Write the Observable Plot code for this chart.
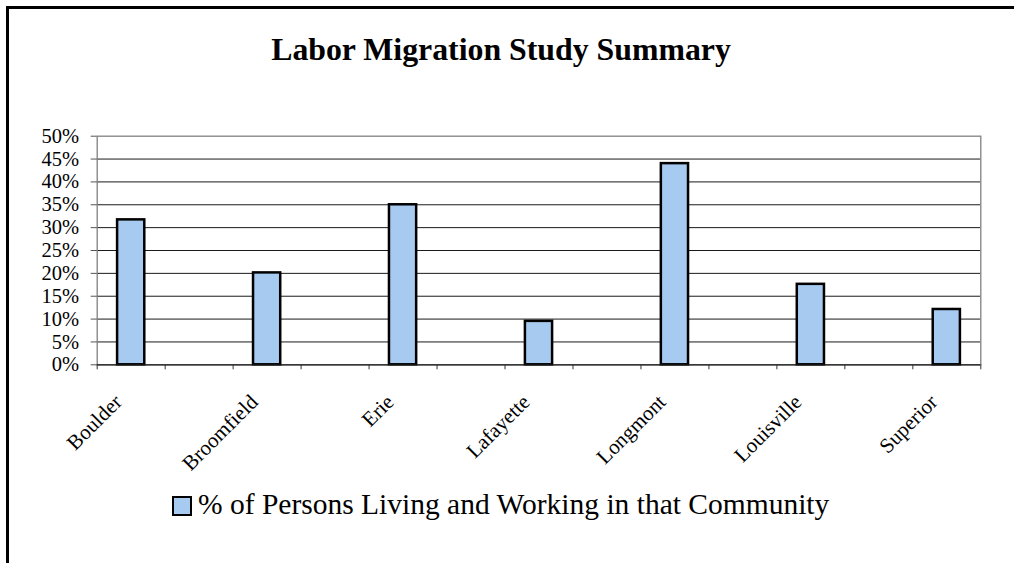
<!DOCTYPE html>
<html>
<head>
<meta charset="utf-8">
<script src="https://cdn.jsdelivr.net/npm/d3@7"></script>
<script src="https://cdn.jsdelivr.net/npm/@observablehq/plot@0.6"></script>
<style>
  html, body { margin: 0; padding: 0; background: #fff; }
  #wrap { position: relative; width: 1014px; height: 563px; overflow: hidden; background: #fff; font-family: "Liberation Serif", "Times New Roman", serif; }
  #border { position: absolute; left: 6px; top: 6px; width: 2000px; height: 2000px; border-left: 3px solid #000; border-top: 3px solid #000; }
  #title { position: absolute; left: 0; width: 1002px; top: 34.4px; text-align: center; font-weight: bold; font-size: 31.8px; line-height: 1; color: #000; white-space: nowrap; }
  #chart { position: absolute; left: 0; top: 100px; }
  #swatch { position: absolute; left: 172px; top: 496px; width: 16px; height: 16px; background: #a6caf0; border: 2px solid #000; }
  #legtext { position: absolute; left: 198px; top: 490.4px; font-size: 29.5px; line-height: 1; color: #000; white-space: nowrap; }
</style>
</head>
<body>
<div id="wrap">
  <div id="border"></div>
  <div id="title">Labor Migration Study Summary</div>
  <div id="chart"></div>
  <div id="swatch"></div>
  <div id="legtext">% of Persons Living and Working in that Community</div>
</div>
<script>
const categories = ["Boulder", "Broomfield", "Erie", "Lafayette", "Longmont", "Louisville", "Superior"];
const values = [0.317, 0.201, 0.350, 0.095, 0.440, 0.176, 0.121];
const yTicks = [0, 0.05, 0.10, 0.15, 0.20, 0.25, 0.30, 0.35, 0.40, 0.45, 0.50];
const seriesName = "% of Persons Living and Working in that Community";

const data = categories.map((c, i) => ({category: c, value: values[i], slot: 2 * i}));
const slotCount = 2 * categories.length - 1;
const slotBounds = d3.range(0, slotCount + 1);

const plot = Plot.plot({
  width: 1014,
  height: 380,
  marginTop: 35.7,
  marginBottom: 115.7,
  marginLeft: 96.7,
  marginRight: 33.7,
  style: {fontFamily: "'Liberation Serif', 'Times New Roman', serif", fontSize: "20.5px", color: "#000", background: "transparent", overflow: "visible"},
  x: {type: "linear", domain: [0, slotCount], axis: null},
  y: {domain: [0, 0.5], axis: null},
  marks: [
    Plot.gridY(yTicks.filter(d => d > 0 && d < 0.5), {stroke: "#1a1a1a", strokeOpacity: 1, strokeWidth: 1}),
    Plot.frame({stroke: "#808080", strokeWidth: 1.3}),
    Plot.rectY(data, {x1: d => d.slot + 0.3, x2: d => d.slot + 0.7, y: "value", fill: "#a6caf0", stroke: "#000", strokeWidth: 2.5}),
    Plot.ruleY([0], {stroke: "#1a1a1a", strokeWidth: 1.2}),
    Plot.axisY({ticks: yTicks, tickFormat: d3.format(".0%"), tickSize: 6, tickPadding: 12, stroke: "#555", fill: "#000", fontSize: 20.5, label: null}),
    Plot.axisX({ticks: slotBounds, tickSize: 5, tickFormat: () => "", stroke: "#333", label: null}),
    Plot.text(data, {x: d => d.slot + 0.5, frameAnchor: "bottom", text: "category", rotate: -45, textAnchor: "end", dx: -8, dy: 38.5, fontSize: 21, fill: "#000"})
  ]
});
document.getElementById("chart").appendChild(plot);
</script>
</body>
</html>
